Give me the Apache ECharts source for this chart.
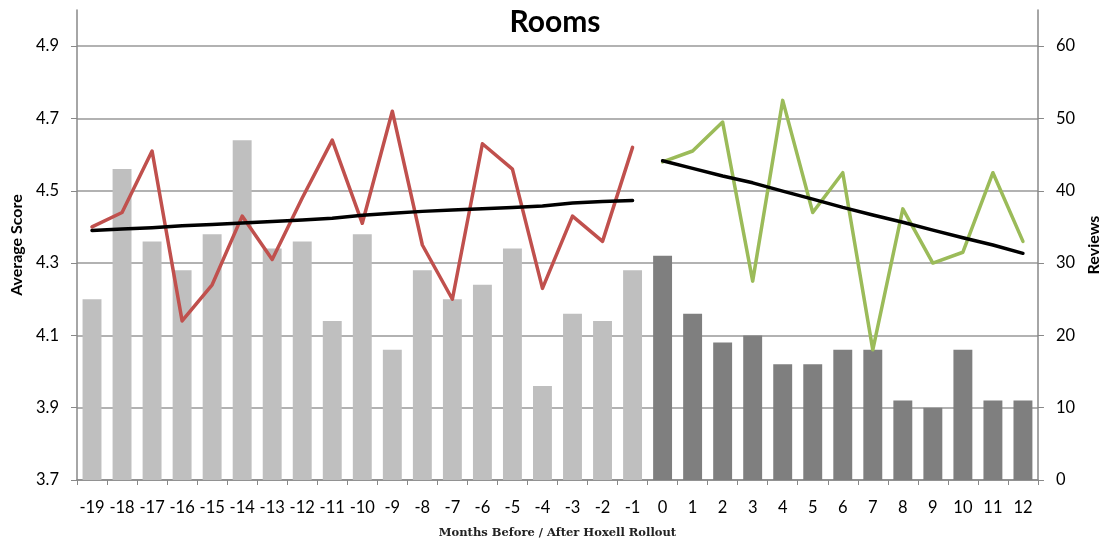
<!DOCTYPE html>
<html>
<head>
<meta charset="utf-8">
<script src="https://cdn.jsdelivr.net/npm/echarts@6/dist/echarts.min.js"></script>
<style>
html,body{margin:0;padding:0;background:#fff;}
#chart{width:1110px;height:544px;}
</style>
</head>
<body>
<div id="chart"></div>
<script>
const months = ['-19','-18','-17','-16','-15','-14','-13','-12','-11','-10','-9','-8','-7','-6','-5','-4','-3','-2','-1','0','1','2','3','4','5','6','7','8','9','10','11','12'];
const reviewsBefore = [25,43,33,29,34,47,32,33,22,34,18,29,25,27,32,13,23,22,29];
const reviewsAfter = [31,23,19,20,16,16,18,18,11,10,18,11,11];
const scoreBefore = [4.40,4.44,4.61,4.14,4.24,4.43,4.31,4.48,4.64,4.41,4.72,4.35,4.20,4.63,4.56,4.23,4.43,4.36,4.62];
const scoreAfter = [4.58,4.61,4.69,4.25,4.75,4.44,4.55,4.06,4.45,4.30,4.33,4.55,4.36];
const trendBefore = [4.390,4.394,4.398,4.403,4.407,4.411,4.415,4.419,4.424,4.432,4.438,4.443,4.447,4.450,4.454,4.458,4.466,4.470,4.473];
const trendAfter = [4.583,4.562,4.541,4.522,4.499,4.477,4.454,4.433,4.413,4.391,4.370,4.350,4.327];
const scoreTicks = [3.7,3.9,4.1,4.3,4.5,4.7,4.9];
const reviewTicks = [0,10,20,30,40,50,60];

const nBefore = reviewsBefore.length;
const padAfter = v => months.map((m,i)=> i < nBefore ? '-' : v[i-nBefore]);
const padBefore = v => months.map((m,i)=> i < nBefore ? v[i] : '-');

const FONT = 'Lato';
const chart = echarts.init(document.getElementById('chart'), null, {renderer:'canvas'});
const lineBase = {type:'line', yAxisIndex:0, symbol:'none', z:5, connectNulls:false};
chart.setOption({
  animation:false,
  backgroundColor:'#fff',
  title:{text:'Rooms', left:'center', top:2,
    textStyle:{fontFamily:FONT, fontWeight:'bold', fontSize:30, color:'#000'}},
  grid:{left:77, right:66, top:10, bottom:61, containLabel:false},
  xAxis:{type:'category', data:months, boundaryGap:true,
    name:'Months Before / After Hoxell Rollout', nameLocation:'middle', nameGap:47,
    nameTextStyle:{fontFamily:'DejaVu Serif', fontWeight:'bold', fontSize:11.5, color:'#222'},
    axisLine:{lineStyle:{color:'#888', width:1.5}},
    axisTick:{show:true, interval:0, length:5, lineStyle:{color:'#888'}},
    axisLabel:{interval:0, margin:19, fontFamily:FONT, fontSize:16.5, color:'#000'}},
  yAxis:[
    {type:'value', min:3.7, max:5.0, position:'left',
     name:'Average Score', nameLocation:'middle', nameGap:51, nameRotate:90,
     nameTextStyle:{fontFamily:FONT, fontWeight:'bold', fontSize:16, color:'#000'},
     axisLine:{show:true, lineStyle:{color:'#888', width:1.5}},
     axisTick:{show:true, length:6, customValues:scoreTicks, lineStyle:{color:'#888'}},
     axisLabel:{customValues:scoreTicks, margin:18, fontFamily:FONT, fontSize:16.5, color:'#000',
       formatter:v=>v.toFixed(1)},
     splitLine:{show:true, lineStyle:{color:'#999', width:1.5}}},
    {type:'value', min:0, max:65, position:'right',
     name:'Reviews', nameLocation:'middle', nameGap:46, nameRotate:90,
     nameTextStyle:{fontFamily:FONT, fontWeight:'bold', fontSize:16, color:'#000'},
     axisLine:{show:true, lineStyle:{color:'#888', width:1.5}},
     axisTick:{show:true, length:6, customValues:reviewTicks, lineStyle:{color:'#888'}},
     axisLabel:{customValues:reviewTicks, margin:18, fontFamily:FONT, fontSize:16.5, color:'#000'},
     splitLine:{show:false}}
  ],
  series:[
    {type:'bar', yAxisIndex:1, stack:'rev', data:padBefore(reviewsBefore), barCategoryGap:'37%',
     itemStyle:{color:'#BFBFBF'}},
    {type:'bar', yAxisIndex:1, stack:'rev', data:padAfter(reviewsAfter), barCategoryGap:'37%',
     itemStyle:{color:'#7F7F7F'}},
    Object.assign({}, lineBase, {data:padBefore(scoreBefore), lineStyle:{color:'#C0504D', width:3.5, cap:'round', join:'round'}}),
    Object.assign({}, lineBase, {data:padAfter(scoreAfter), lineStyle:{color:'#9BBB59', width:3.5, cap:'round', join:'round'}}),
    Object.assign({}, lineBase, {data:padBefore(trendBefore), z:6, lineStyle:{color:'#000', width:3.5, cap:'round', join:'round'}}),
    Object.assign({}, lineBase, {data:padAfter(trendAfter), z:6, lineStyle:{color:'#000', width:3.5, cap:'round', join:'round'}})
  ]
});
</script>
</body>
</html>
